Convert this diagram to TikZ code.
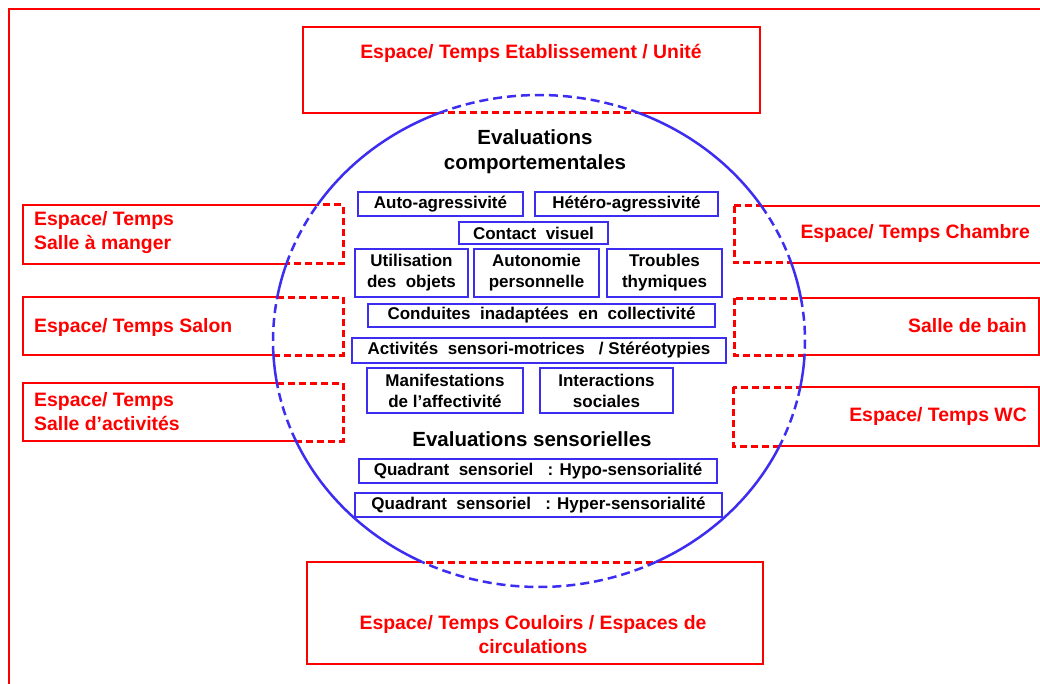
\documentclass[tikz,border=0pt]{standalone}
\usepackage{fontspec}
\setmainfont{Liberation Sans}
\definecolor{bl}{RGB}{60,45,240}
\newcommand{\myoval}{(539,341) ellipse [x radius=266, y radius=246]}
\newcommand{\boxlist}{303/27/760/113, 23/205/343/264, 23/297/343/355, 23/383/343/441, 734/206/1060/263, 734/298/1039/355, 733/387/1039/446, 307/562/763/664}
\begin{document}
\begin{tikzpicture}[x=1pt,y=-1pt,
 redframe/.style={draw=red, line width=2.9pt, inner sep=0pt},
 redbox/.style={redframe, rectangle},
 redtext/.style={text=red, font=\bfseries\fontsize{19.4}{24}\selectfont, inner sep=0pt},
 bluebox/.style={draw=bl, line width=2.4pt, inner sep=0pt, align=center, font=\bfseries\fontsize{17}{21}\selectfont},
 head/.style={font=\bfseries\fontsize{20.5}{25}\selectfont, align=center, inner sep=0pt},
 reddash/.style={draw=red, line width=3pt, dash pattern=on 7pt off 4pt},
 blueline/.style={draw=bl, line width=2.5pt},
 bluedash/.style={blueline, dash pattern=on 9pt off 5pt},
 eraser/.style={draw=white, line width=4.8pt}
]
\useasboundingbox (0,0) rectangle (1040,684);
\fill[white] (0,0) rectangle (1040,684);
\draw[redframe] (9,9) rectangle (1070,720);

% red boxes
\node[redbox, minimum width=457, minimum height=86] (top) at (531.5,70) {};
\node[redbox, minimum width=320, minimum height=59] (lm) at (183,234.5) {};
\node[redbox, minimum width=320, minimum height=58] (ls) at (183,326) {};
\node[redbox, minimum width=320, minimum height=58] (la) at (183,412) {};
\node[redbox, minimum width=326, minimum height=57] (ch) at (897,234.5) {};
\node[redbox, minimum width=305, minimum height=57] (sb) at (886.5,326.5) {};
\node[redbox, minimum width=306, minimum height=59] (wc) at (886,416.5) {};
\node[redbox, minimum width=456, minimum height=102] (bot) at (535,613) {};

% box edges: dashed inside the oval
\begin{scope}
 \clip \myoval;
 \foreach \xa/\ya/\xb/\yb in \boxlist {
  \draw[eraser] (\xa,\ya) rectangle (\xb,\yb);
  \draw[reddash] (\xa,\ya) rectangle (\xb,\yb);
 }
\end{scope}

% oval: solid arcs outside the boxes
\foreach \s/\e in {-67.94/-33.28, -18.49/-10.07, 3.26/10.78, 25.27/63.94, 116.06/156.02, 170.17/176.74, 190.30/198.24, 213.56/247.94}
 \draw[blueline, shift={(539,341)}] (\s:266 and 246) arc[start angle=\s, end angle=\e, x radius=266, y radius=246];
% oval: dashed arcs inside the boxes
\foreach \s/\e in {247.94/292.06, -33.28/-18.49, -10.07/3.26, 10.78/25.27, 63.94/116.06, 156.02/170.17, 176.74/190.30, 198.24/213.56}
 \draw[bluedash, shift={(539,341)}] (\s:266 and 246) arc[start angle=\s, end angle=\e, x radius=266, y radius=246];

% red texts
\node[redtext] (ttop) at (531,53) {Espace/ Temps Etablissement / Unité};
\node[redtext, anchor=west, align=left] (tlm) at (34,233) {Espace/ Temps\\Salle à manger};
\node[redtext, anchor=west, align=left] (tls) at (34,327) {Espace/ Temps Salon};
\node[redtext, anchor=west, align=left] (tla) at (34,412) {Espace/ Temps\\Salle d’activités};
\node[redtext, anchor=east, align=right] (tch) at (1030,233) {Espace/ Temps Chambre};
\node[redtext, anchor=east, align=right] (tsb) at (1027,326) {Salle de bain};
\node[redtext, anchor=east, align=right] (twc) at (1027,416) {Espace/ Temps WC};
\node[redtext, align=center] (tbot) at (533,635) {Espace/ Temps Couloirs / Espaces de\\circulations};

% headings
\node[head] (h1) at (535,152) {Evaluations\\comportementales};
\node[head] (h2) at (532,439) {Evaluations sensorielles};

% blue boxes
\node[bluebox, minimum width=165, minimum height=24] (auto) at (440.5,204) {Auto-agressivité};
\node[bluebox, minimum width=183, minimum height=24] (hetero) at (626.5,204) {Hétéro-agressivité};
\node[bluebox, minimum width=149, minimum height=22] (contact) at (533.5,233) {Contact\ \ visuel};
\node[bluebox, minimum width=113, minimum height=48] (util) at (411.5,273) {Utilisation\\des\ \ objets};
\node[bluebox, minimum width=125, minimum height=48] (auton) at (536.5,273) {Autonomie\\personnelle};
\node[bluebox, minimum width=115, minimum height=48] (troub) at (664.5,273) {Troubles\\thymiques};
\node[bluebox, minimum width=347, minimum height=23] (cond) at (541.5,315.5) {Conduites\ \ inadaptées\ \ en\ \ collectivité};
\node[bluebox, minimum width=374, minimum height=25] (activ) at (539,350.5) {Activités\ \ sensori-motrices\ \ \ / Stéréotypies};
\node[bluebox, minimum width=156, minimum height=45] (manif) at (445,390.5) {Manifestations\\de l’affectivité};
\node[bluebox, minimum width=133, minimum height=45] (inter) at (606.5,390.5) {Interactions\\sociales};
\node[bluebox, minimum width=358, minimum height=24] (hypo) at (538,471) {Quadrant\ \ sensoriel\ \ \ : Hypo-sensorialité};
\node[bluebox, minimum width=367, minimum height=24] (hyper) at (538.5,505) {Quadrant\ \ sensoriel\ \ \ : Hyper-sensorialité};
\end{tikzpicture}
\end{document}
